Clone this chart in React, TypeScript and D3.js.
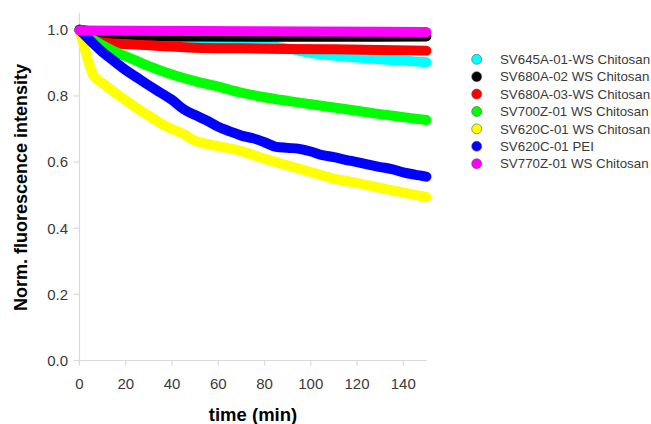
import React from "react";
import * as d3 from "d3";

const seriesNames = [
  "SV645A-01-WS Chitosan",
  "SV680A-02 WS Chitosan",
  "SV680A-03-WS Chitosan",
  "SV700Z-01 WS Chitosan",
  "SV620C-01 WS Chitosan",
  "SV620C-01 PEI",
  "SV770Z-01 WS Chitosan",
];
const seriesColors = ["#00ffff", "#000000", "#ff0000", "#00ff00", "#ffff00", "#0000ff", "#ff00ff"];

const cyanT = [0, 20, 40, 60, 75, 90, 100, 110, 120, 130, 140, 150];
const cyanV = [1.0, 0.975, 0.967, 0.962, 0.958, 0.943, 0.93, 0.922, 0.916, 0.911, 0.907, 0.902];
const blackT = [0, 10, 20, 40, 80, 120, 150];
const blackV = [1.0, 0.99, 0.984, 0.98, 0.979, 0.979, 0.98];
const redT = [0, 3, 5, 10, 20, 30, 50, 70, 90, 110, 130, 150];
const redV = [1.0, 0.98, 0.97, 0.962, 0.957, 0.953, 0.946, 0.944, 0.942, 0.941, 0.939, 0.937];
const greenT = [0, 5, 10, 15, 20, 25, 30, 40, 50, 60, 70, 80, 90, 100, 110, 120, 130, 140, 150];
const greenV = [1.0, 0.975, 0.953, 0.935, 0.92, 0.905, 0.89, 0.865, 0.845, 0.828, 0.81, 0.796, 0.785, 0.775, 0.765, 0.755, 0.745, 0.736, 0.727];
const yellowT = [0, 2, 4, 6, 8, 10, 15, 20, 25, 30, 35, 40, 45, 50, 55, 60, 70, 80, 90, 100, 110, 120, 130, 140, 150];
const yellowV = [1.0, 0.95, 0.9, 0.862, 0.848, 0.838, 0.812, 0.787, 0.762, 0.74, 0.718, 0.7, 0.685, 0.664, 0.655, 0.648, 0.633, 0.61, 0.59, 0.57, 0.55, 0.537, 0.522, 0.508, 0.494];
const blueT = [0, 5, 10, 15, 20, 25, 30, 35, 40, 45, 50, 55, 60, 65, 70, 75, 80, 85, 90, 95, 100, 105, 110, 115, 120, 125, 130, 135, 140, 145, 150];
const blueV = [1.0, 0.965, 0.932, 0.905, 0.878, 0.855, 0.832, 0.81, 0.788, 0.76, 0.742, 0.726, 0.707, 0.693, 0.68, 0.672, 0.66, 0.646, 0.643, 0.64, 0.632, 0.621, 0.615, 0.607, 0.6, 0.592, 0.585, 0.579, 0.569, 0.562, 0.556];
const magentaT = [0, 50, 100, 150];
const magentaV = [0.998, 0.996, 0.995, 0.993];

const seriesT = [cyanT, blackT, redT, greenT, yellowT, blueT, magentaT];
const seriesV = [cyanV, blackV, redV, greenV, yellowV, blueV, magentaV];

const xTicks = [0, 20, 40, 60, 80, 100, 120, 140];
const yTicks = [0, 0.2, 0.4, 0.6, 0.8, 1.0];

const W = 651;
const H = 424;

export default function App() {
  const x = d3.scaleLinear().domain([0, 150]).range([79.5, 426.4]);
  const y = d3.scaleLinear().domain([0, 1]).range([360.5, 29.8]);
  const axisColor = "#d9d9d9";
  const textColor = "#3a3a3a";
  const font = "Arial, 'Liberation Sans', sans-serif";

  const line = d3
    .line<[number, number]>()
    .x((d) => x(d[0]))
    .y((d) => y(d[1]))
    .curve(d3.curveMonotoneX);

  return (
    <svg width={W} height={H} style={{ position: "absolute", left: 0, top: 0, background: "#fff" }} fontFamily={font}>
      {/* axes */}
      <line x1={x(0)} x2={x(0)} y1={13} y2={y(0)} stroke={axisColor} strokeWidth={1.2} />
      <line x1={x(0)} x2={427} y1={y(0)} y2={y(0)} stroke={axisColor} strokeWidth={1.2} />
      {yTicks.map((t) => (
        <g key={"y" + t}>
          <line x1={x(0) - 6} x2={x(0)} y1={y(t)} y2={y(t)} stroke={axisColor} strokeWidth={1.2} />
          <text x={68} y={y(t)} dy="0.36em" textAnchor="end" fontSize={15} fill={textColor}>
            {t.toFixed(1)}
          </text>
        </g>
      ))}
      {xTicks.map((t) => (
        <g key={"x" + t}>
          <line x1={x(t)} x2={x(t)} y1={y(0)} y2={y(0) + 5} stroke={axisColor} strokeWidth={1.2} />
          <text x={x(t)} y={388.5} textAnchor="middle" fontSize={15} fill={textColor}>
            {t}
          </text>
        </g>
      ))}
      {/* titles */}
      <text
        transform={`translate(26.5,187.5) rotate(-90)`}
        textAnchor="middle"
        fontSize={18}
        fontWeight="bold"
        fill="#000"
      >
        Norm. fluorescence intensity
      </text>
      <text x={253} y={421} textAnchor="middle" fontSize={18.5} fontWeight="bold" fill="#000">
        time (min)
      </text>
      {/* series */}
      {seriesNames.map((name, i) => {
        const pts: [number, number][] = seriesT[i].map((t, j) => [t, seriesV[i][j]]);
        return (
          <path
            key={name}
            d={line(pts) || ""}
            fill="none"
            stroke={seriesColors[i]}
            strokeWidth={10}
            strokeLinecap="round"
            strokeLinejoin="round"
          />
        );
      })}
      {/* legend */}
      {seriesNames.map((name, i) => {
        const cy = 59.3 + i * 17.4;
        return (
          <g key={"lg" + name}>
            <circle cx={476.7} cy={cy} r={5} fill={seriesColors[i]} stroke="#555" strokeWidth={0.6} />
            <text x={500} y={cy} dy="0.36em" fontSize={13.3} fill={textColor}>
              {name}
            </text>
          </g>
        );
      })}
    </svg>
  );
}
